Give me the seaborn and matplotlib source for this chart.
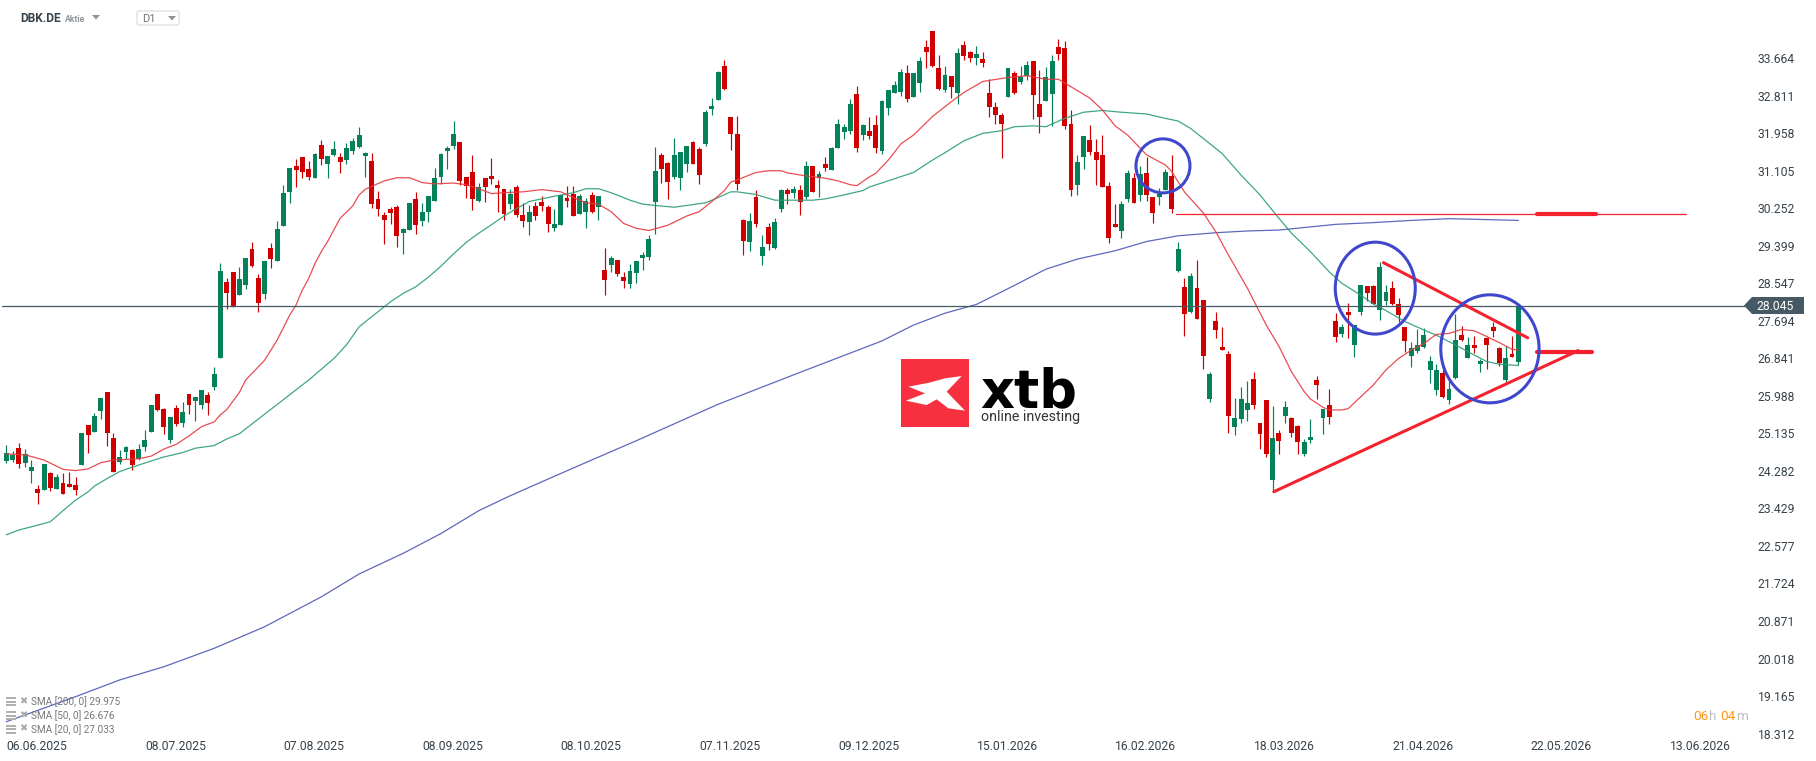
import matplotlib
matplotlib.use("Agg")
import matplotlib.pyplot as plt
from matplotlib.patches import Ellipse, Polygon, Rectangle, FancyBboxPatch
import numpy as np
import pandas as pd
import seaborn as sns

# daily candles, index = trading day
highs = [
    24.87, 24.74, 24.92, 24.78, 24.53, 23.96, 24.44, 24.26, 24.21, 24.24,
    24.26, 24.15, 25.15, 25.33, 25.60, 25.94, 26.08, 25.15, 24.76, 24.85,
    24.78, 24.90, 25.21, 25.78, 26.03, 25.71, 25.51, 25.78, 25.85, 26.03,
    25.97, 26.12, 26.08, 26.65,
    29.01, 28.67, 28.81, 28.92, 29.13, 29.49, 28.76, 29.06, 29.47, 29.97,
    30.79, 31.17, 31.38, 31.42, 31.33, 31.51, 31.81, 31.44, 31.79, 31.51,
    31.74, 31.85, 32.10, 31.54, 31.51, 30.65, 30.17, 30.28, 30.33, 29.81,
    30.38, 30.63, 30.38, 30.54, 31.17, 31.51, 31.67,
    32.24, 31.76, 30.97, 31.47, 30.83, 30.94, 31.40, 30.90, 30.69, 30.69,
    30.79, 30.38, 30.33, 30.40, 30.54, 30.33, 30.24, 30.56, 30.76, 30.76,
    30.58, 30.49, 30.63, 30.54, 29.35, 29.17, 29.08, 28.81, 28.99, 29.06,
    29.26, 29.65, 31.65, 31.51, 31.31, 31.85, 31.54, 31.67, 31.79, 31.65,
    32.49, 32.76, 33.38, 33.63, 32.33, 32.35, 30.01, 30.15, 30.67, 29.65,
    29.92, 30.03, 30.69, 30.72, 30.76, 30.79, 31.33, 31.22, 31.10, 31.42,
    31.65, 32.29, 32.17, 32.74, 33.04, 32.17, 32.33, 32.38, 32.72, 32.95,
    33.15, 33.42, 33.51, 33.33, 33.70, 34.08, 34.29, 33.74, 33.49, 33.26,
    33.90, 34.06, 33.83, 33.95, 33.81, 33.20, 32.67, 32.42, 33.45, 33.38,
    33.49, 33.60, 33.60, 33.40, 33.47, 33.74, 34.10, 34.06, 32.49, 31.47,
    31.90, 32.15, 31.83, 31.92, 30.85, 30.35, 30.42, 31.13, 31.06, 31.22,
    31.42, 30.51, 30.72, 31.15, 31.47, 29.49, 28.67, 28.78, 29.08, 28.17,
    26.53, 27.90, 27.56, 27.01, 25.94, 26.19, 26.33, 26.53, 25.37, 25.90,
    25.76,
    25.21, 25.87, 25.51, 25.33, 25.01, 25.46, 26.44, 25.69, 26.15, 27.87,
    27.62, 28.10, 27.60, 28.51, 28.49, 28.51, 29.03, 28.51, 28.60, 28.22,
    27.56, 27.22, 27.51, 27.53, 26.90, 26.71, 26.60, 26.33, 27.85, 27.58,
    27.33, 27.35, 26.83, 27.33, 27.67, 27.10, 27.12, 27.35, 28.08,
]
body_tops = [
    24.69, 24.65, 24.80, 24.67, 24.37, 23.87, 24.44, 24.24, 24.15, 24.01,
    23.99, 23.96, 25.15, 25.33, 25.53, 25.94, 26.08, 25.03, 24.60, 24.83,
    24.76, 24.78, 24.99, 25.78, 26.03, 25.69, 25.51, 25.71, 25.62, 26.03,
    25.97, 26.12, 26.01, 26.49,
    28.83, 28.58, 28.81, 28.65, 29.13, 29.33, 28.67, 29.06, 29.35, 29.78,
    30.60, 31.17, 31.22, 31.42, 31.15, 31.49, 31.69, 31.44, 31.60, 31.42,
    31.63, 31.79, 31.92, 31.51, 31.33, 30.47, 30.10, 30.24, 30.28, 29.78,
    30.38, 30.47, 30.17, 30.54, 30.94, 31.49, 31.63,
    31.94, 31.76, 30.97, 31.08, 30.74, 30.94, 30.99, 30.79, 30.69, 30.58,
    30.74, 30.10, 30.17, 30.31, 30.40, 30.28, 29.90, 30.56, 30.49, 30.58,
    30.54, 30.42, 30.56, 30.54, 28.85, 29.13, 29.08, 28.69, 28.83, 29.06,
    29.19, 29.56, 31.10, 31.47, 31.29, 31.47, 31.54, 31.67, 31.76, 31.60,
    32.45, 32.58, 33.36, 33.49, 32.33, 31.94, 29.99, 29.97, 30.51, 29.38,
    29.83, 29.94, 30.67, 30.67, 30.69, 30.67, 31.22, 31.22, 31.04, 31.26,
    31.63, 32.17, 32.10, 32.63, 32.85, 32.15, 32.01, 32.15, 32.70, 32.95,
    33.06, 33.35, 33.33, 33.33, 33.60, 33.92, 34.29, 33.45, 33.29, 33.26,
    33.79, 33.97, 33.81, 33.76, 33.65, 32.88, 32.56, 32.38, 33.45, 33.33,
    33.24, 33.51, 33.60, 32.63, 33.24, 33.60, 33.92, 33.90, 32.17, 31.31,
    31.90, 31.81, 31.54, 31.47, 30.76, 29.90, 30.35, 31.06, 30.94, 31.04,
    31.06, 30.51, 30.58, 31.08, 30.99, 29.33, 28.47, 28.72, 28.44, 28.17,
    26.49, 27.69, 27.10, 26.94, 25.49, 25.92, 25.83, 26.37, 25.37, 25.90,
    25.03,
    25.15, 25.74, 25.49, 25.31, 24.94, 25.05, 26.35, 25.69, 25.78, 27.69,
    27.56, 27.90, 27.60, 28.51, 28.49, 28.49, 28.92, 28.35, 28.44, 28.08,
    27.56, 27.08, 27.15, 27.37, 26.78, 26.58, 26.51, 26.15, 27.26, 27.37,
    27.15, 27.15, 26.78, 27.31, 27.56, 27.08, 26.85, 26.94, 28.03,
]
body_bottoms = [
    24.51, 24.53, 24.44, 24.46, 24.28, 23.78, 23.85, 23.90, 23.87, 23.76,
    23.92, 23.85, 24.42, 25.10, 25.17, 25.65, 25.15, 24.26, 24.49, 24.71,
    24.42, 24.55, 24.83, 25.17, 25.67, 25.28, 24.99, 25.35, 25.37, 25.78,
    25.87, 25.78, 25.83, 26.19,
    26.85, 28.33, 28.01, 28.28, 28.51, 28.94, 28.10, 28.31, 29.10, 29.06,
    29.85, 30.63, 31.13, 31.08, 30.97, 30.94, 31.38, 31.26, 31.47, 31.31,
    31.35, 31.56, 31.65, 31.44, 30.35, 30.24, 29.99, 30.15, 29.63, 29.69,
    29.76, 29.88, 29.97, 30.17, 30.42, 30.97, 31.56,
    31.67, 30.88, 30.76, 30.47, 30.42, 30.74, 30.92, 30.72, 30.13, 30.35,
    30.10, 29.97, 29.94, 30.08, 30.31, 29.90, 29.81, 29.88, 30.42, 30.08,
    30.13, 30.17, 30.17, 30.28, 28.63, 28.97, 28.76, 28.60, 28.53, 28.78,
    29.13, 29.15, 30.40, 31.15, 30.85, 30.97, 30.94, 31.26, 31.26, 31.01,
    31.72, 32.51, 32.72, 32.97, 31.94, 30.81, 29.51, 29.49, 29.90, 29.17,
    29.44, 29.35, 30.24, 30.58, 30.60, 30.40, 30.51, 30.63, 30.94, 31.17,
    31.13, 31.63, 31.99, 32.01, 31.63, 31.92, 31.90, 31.63, 31.56, 32.54,
    32.88, 32.90, 32.74, 32.79, 33.10, 33.81, 33.49, 32.97, 32.95, 33.01,
    32.88, 33.72, 33.67, 33.67, 33.56, 32.56, 32.38, 32.17, 32.79, 32.88,
    33.13, 33.26, 32.83, 32.33, 32.70, 32.85, 33.76, 32.13, 30.67, 30.79,
    31.42, 31.54, 31.35, 30.74, 29.58, 29.83, 29.74, 30.47, 30.38, 30.56,
    30.56, 30.15, 30.51, 30.67, 30.24, 28.83, 27.85, 27.90, 27.74, 26.90,
    25.92, 27.49, 27.03, 25.53, 25.28, 25.46, 25.67, 25.78, 25.12, 24.67,
    24.08,
    24.96, 25.53, 25.15, 24.94, 24.67, 24.99, 26.24, 25.49, 25.51, 27.33,
    27.40, 27.83, 27.15, 27.90, 28.33, 28.08, 27.94, 28.15, 28.08, 27.83,
    27.24, 26.90, 27.01, 27.10, 26.58, 26.12, 25.96, 25.90, 26.40, 27.26,
    26.85, 27.08, 26.71, 27.15, 27.47, 26.74, 26.35, 26.87, 26.76,
]
lows = [
    24.46, 24.49, 24.35, 24.37, 24.01, 23.53, 23.85, 23.83, 23.87, 23.76,
    23.92, 23.74, 24.42, 24.69, 25.17, 25.46, 24.85, 24.26, 24.44, 24.55,
    24.30, 24.53, 24.74, 25.17, 25.65, 25.12, 24.92, 25.31, 25.28, 25.58,
    25.42, 25.69, 25.56, 26.12,
    26.85, 27.97, 28.01, 28.28, 28.42, 28.92, 27.90, 28.19, 28.90, 29.06,
    29.85, 30.38, 30.74, 30.94, 30.90, 30.94, 31.24, 30.94, 31.44, 31.06,
    31.26, 31.49, 31.63, 30.97, 30.26, 30.08, 29.44, 29.90, 29.38, 29.22,
    29.76, 29.67, 29.85, 29.94, 30.42, 30.81, 31.15,
    31.60, 30.79, 30.49, 30.22, 30.40, 30.40, 30.81, 30.17, 29.99, 30.24,
    30.06, 29.83, 29.65, 29.99, 30.19, 29.72, 29.74, 29.88, 30.28, 30.08,
    30.13, 29.81, 30.15, 29.99, 28.28, 28.81, 28.72, 28.44, 28.44, 28.56,
    28.85, 29.08, 29.67, 30.83, 30.47, 30.92, 30.67, 31.08, 31.26, 30.81,
    31.67, 32.38, 32.72, 32.95, 31.58, 30.67, 29.19, 29.28, 29.83, 28.97,
    29.31, 29.33, 30.17, 30.35, 30.49, 30.10, 30.47, 30.63, 30.51, 31.10,
    31.13, 31.63, 31.83, 31.94, 31.54, 31.81, 31.83, 31.51, 31.49, 32.38,
    32.88, 32.81, 32.67, 32.79, 32.90, 33.45, 33.47, 32.95, 32.90, 32.76,
    32.63, 33.63, 33.58, 33.51, 33.47, 32.33, 32.17, 31.40, 32.79, 32.85,
    33.08, 33.17, 32.29, 31.97, 32.70, 32.13, 33.63, 32.06, 30.53, 30.56,
    31.15, 31.47, 30.79, 30.74, 29.47, 29.83, 29.58, 30.40, 30.38, 30.42,
    30.42, 29.92, 30.33, 30.67, 30.15, 28.81, 27.35, 27.87, 27.74, 26.60,
    25.85, 27.31, 27.03, 25.15, 25.10, 25.37, 25.42, 25.69, 24.78, 24.60,
    23.80,
    24.67, 25.37, 25.05, 24.67, 24.62, 24.92, 25.92, 25.12, 25.35, 27.22,
    27.33, 27.31, 26.87, 27.83, 28.15, 28.08, 27.71, 28.06, 28.06, 27.67,
    26.99, 26.65, 26.96, 27.08, 26.28, 26.01, 25.94, 25.80, 26.37, 27.24,
    26.85, 26.96, 26.53, 26.60, 27.33, 26.67, 26.31, 26.87, 26.69,
]
# G = close above open, R = close below open
directions = (
    "GGRGGRGRGR" "RRGRGGRRGG" "RGGGRRGRGR" "GGRG"
    "GRRGGRRGRG" "GGRRRGRGGR" "GGGGRRRRRG" "GRGGGGG"
    "GRRRGRRRRG" "RRGRRRGGRR" "GGRGRGRRGG" "GGGRRGGGRR"
    "GGGRRRRGRG" "RGGRGRGRGR" "GGGGRGRRGG"
    "GGRGGRRRGR" "GRRGRRRRGR" "GGRRGGRRRG" "GRRRRRGGRG"
    "RRGGRGRGRR" "GRRRGGGRRR" "G"
    "RGRRGGRGRR" "GRGGRRGGRR" "RGGGGGRGGR" "GRGRRRGRG"
)

sma20_days = [0, 3, 6, 9, 11, 13, 15, 17, 21, 23, 25, 27, 29, 31, 33, 34, 35, 37, 38, 41, 43, 45, 46, 47, 48, 49,
              50, 51, 53, 55, 56, 57, 60, 62, 64, 66, 68, 71, 73, 75, 77, 79, 82, 85, 88, 90, 92, 94, 96, 98,
              100, 102, 105, 108, 110, 112, 114, 115, 116, 119, 121, 123, 124, 127, 130, 132, 134, 135, 137, 138,
              140, 142, 144, 147, 150, 152, 155, 159, 162, 165, 167, 169, 172, 174, 176, 178, 181, 184, 185, 187,
              190, 192, 194, 197, 200, 202, 204, 206, 207, 209, 210, 212, 213, 215, 217, 219, 221, 223, 225, 227,
              229, 231, 233, 235, 237, 239, 240]
sma20_values = [24.67, 24.65, 24.53, 24.32, 24.29, 24.33, 24.47, 24.53, 24.56, 24.62, 24.78, 24.89, 25.08, 25.29,
                25.40, 25.56, 25.68, 26.07, 26.35, 26.80, 27.26, 27.83, 28.06, 28.40, 28.66, 29.00,
                29.27, 29.50, 30.03, 30.31, 30.56, 30.69, 30.88, 30.95, 30.95, 30.84, 30.81, 30.83, 30.79, 30.70,
                30.59, 30.61, 30.63, 30.68, 30.63, 30.50, 30.38, 30.35, 30.18, 29.91,
                29.80, 29.75, 29.87, 30.08, 30.18, 30.41, 30.66, 30.85, 30.90, 31.07, 31.11, 31.11, 31.06, 30.99,
                30.94, 30.88, 30.79, 30.77, 30.97, 31.05,
                31.35, 31.72, 31.92, 32.34, 32.68, 32.89, 33.14, 33.23, 33.27, 33.19, 33.19, 33.02, 32.76, 32.49,
                32.13, 31.92, 31.47, 31.24, 31.09, 30.63,
                30.15, 29.72, 29.19, 28.44, 27.60, 27.12, 26.54, 26.09, 25.92, 25.73, 25.67, 25.67, 25.70, 25.97,
                26.24, 26.58, 26.84, 27.03, 27.18, 27.39,
                27.41, 27.50, 27.47, 27.34, 27.20, 27.05, 27.03]

sma50_days = [0, 2, 5, 7, 9, 11, 13, 14, 16, 18, 20, 23, 25, 28, 30, 33, 35, 37, 48, 52, 54, 56, 58, 61, 63, 65, 67,
              69, 71, 73, 75, 77, 79, 81, 83, 85, 87, 90, 92, 94, 96, 99, 101, 103, 106, 108, 111, 113, 115, 116,
              119, 122, 125, 128, 130, 133, 136, 137, 140, 144, 147, 149, 152, 155, 158, 160, 163, 165, 168, 171,
              174, 177, 181, 184, 186, 188, 191, 193, 196, 199, 202, 204, 207, 210, 212, 215, 217, 219, 222, 225,
              227, 230, 233, 235, 237, 240]
sma50_values = [22.83, 22.94, 23.05, 23.13, 23.38, 23.62, 23.81, 23.94, 24.11, 24.27, 24.37, 24.51, 24.60, 24.70,
                24.80, 24.86, 25.01, 25.13, 26.35, 26.84, 27.15, 27.56, 27.79, 28.13, 28.32, 28.47, 28.69,
                28.94, 29.22, 29.48, 29.69, 29.88, 30.08, 30.25, 30.41, 30.47, 30.53, 30.61, 30.70, 30.70, 30.61,
                30.44, 30.35, 30.32, 30.28, 30.32, 30.38, 30.50, 30.63, 30.63,
                30.57, 30.44, 30.44, 30.44, 30.47, 30.56, 30.66, 30.74, 30.88, 31.07, 31.35, 31.52, 31.79, 31.96,
                32.02, 32.11, 32.13, 32.11, 32.30, 32.44,
                32.48, 32.44, 32.40, 32.30, 32.24, 32.07, 31.73, 31.50, 31.01, 30.56, 30.03, 29.69, 29.27, 28.81,
                28.55, 28.28, 28.08, 27.93, 27.68, 27.49,
                27.37, 27.15, 26.92, 26.77, 26.71, 26.68]

sma200_days = [0, 11, 18, 25, 33, 41, 50, 56, 63, 69, 75, 80, 90, 100, 113, 125, 139, 144, 149, 154, 160, 165, 170,
               176, 181, 186, 192, 197, 202, 211, 217, 223, 229, 240]
sma200_values = [18.58, 19.15, 19.53, 19.83, 20.25, 20.74, 21.42, 21.94, 22.41, 22.86, 23.38, 23.72, 24.35, 24.97,
                 25.80, 26.47, 27.24, 27.60, 27.87, 28.07, 28.50, 28.87, 29.10, 29.29,
                 29.50, 29.63, 29.70, 29.74, 29.76, 29.89, 29.93, 29.98, 30.02, 29.98]

price_ticks = [18.312, 19.165, 20.018, 20.871, 21.724, 22.577, 23.429, 24.282, 25.135, 25.988,
               26.841, 27.694, 28.547, 29.399, 30.252, 31.105, 31.958, 32.811, 33.664]
date_ticks = [0, 22, 44, 66, 88, 110, 132, 154, 176, 198, 220, 242, 264]
date_labels = ["06.06.2025", "08.07.2025", "07.08.2025", "08.09.2025", "08.10.2025", "07.11.2025", "09.12.2025",
               "15.01.2026", "16.02.2026", "18.03.2026", "21.04.2026", "22.05.2026", "13.06.2026"]
last_price = 28.045
legend_labels = ["SMA [200, 0] 29.975", "SMA [50, 0] 26.676", "SMA [20, 0] 27.033"]

GREEN = "#04805a"
RED = "#d00000"
DRAW_RED = "#f4212e"
CIRCLE = "#3f48cc"
SLATE = "#455a64"
TEXT = "#37424a"

sns.set_theme(style="white")
plt.rcParams["font.family"] = ["Roboto", "DejaVu Sans"]

candles = pd.DataFrame({"high": highs, "top": body_tops, "bottom": body_bottoms, "low": lows,
                        "dir": list(directions)})
candles["day"] = candles.index
candles["color"] = candles["dir"].map({"G": GREEN, "R": RED})

fig = plt.figure(figsize=(18.16, 7.61), dpi=100, facecolor="white")
ax = fig.add_axes([0, 24 / 761, 1752 / 1816, 737 / 761])
ax.set_facecolor("none")

ax.vlines(candles["day"], candles["low"], candles["high"], colors=candles["color"], linewidth=0.85, zorder=2)
ax.bar(candles["day"], candles["top"] - candles["bottom"], bottom=candles["bottom"], width=0.78,
       color=candles["color"], linewidth=0, zorder=2)

for days, values, color in [(sma200_days, sma200_values, "#4c58b4"),
                            (sma50_days, sma50_values, "#2a9d78"),
                            (sma20_days, sma20_values, "#e63a3f")]:
    sns.lineplot(x=days, y=values, color=color, linewidth=0.9, alpha=0.9, errorbar=None, legend=False,
                 ax=ax, zorder=3)

ax.axhline(last_price, xmin=2 / 1752, color=SLATE, linewidth=0.9, zorder=3)

# hand drawn levels and trend lines
ax.plot([185.7, 266.6], [30.12, 30.12], color=DRAW_RED, linewidth=0.9, zorder=4)
ax.plot([243, 252.3], [30.12, 30.12], color=DRAW_RED, linewidth=3.0, zorder=4, solid_capstyle="round")
ax.plot([201.2, 249.5], [23.81, 27.02], color=DRAW_RED, linewidth=2.2, zorder=4)
ax.plot([218.6, 241.5], [29.02, 27.31], color=DRAW_RED, linewidth=2.2, zorder=4)
ax.plot([243, 251.7], [26.98, 26.98], color=DRAW_RED, linewidth=3.0, zorder=4, solid_capstyle="round")
for day, price, w, h in [(183.6, 31.22, 8.57, 1.228), (217.3, 28.44, 12.7, 2.09), (235.5, 27.06, 15.6, 2.456)]:
    ax.add_patch(Ellipse((day, price), w, h, fill=False, edgecolor=CIRCLE, linewidth=2.2, zorder=5))

ax.set_xlim(-1, 277.1)
ax.set_ylim(18.233, 34.992)
ax.set_xticks(date_ticks)
ax.set_xticklabels(date_labels, ha="left", fontsize=8.7, color=TEXT)
ax.yaxis.tick_right()
ax.set_yticks(price_ticks)
ax.set_yticklabels([f"{p:.3f}" for p in price_ticks], fontsize=8.7, color=TEXT)
ax.tick_params(axis="both", length=0)
ax.tick_params(axis="x", pad=2)
ax.tick_params(axis="y", pad=4)
sns.despine(ax=ax, left=True, bottom=True, right=True, top=True)

# screen furniture in pixel coordinates: logo, header, legend, price flag, timer
deco = fig.add_axes([0, 0, 1, 1])
deco.set_xlim(0, 1816)
deco.set_ylim(761, 0)
deco.axis("off")
deco.set_facecolor("none")

deco.add_patch(Rectangle((901, 359), 68, 68, facecolor="#f7303f", edgecolor="none"))
x_mark = np.array([(85, 140), (148, 128), (195, 115), (245, 108), (200, 155), (255, 212), (205, 205), (170, 178),
                   (140, 195), (78, 182), (135, 160)], dtype=float)
deco.add_patch(Polygon(np.column_stack([880 + x_mark[:, 0] / 3, 340 + x_mark[:, 1] / 3]), facecolor="white",
                       edgecolor="none"))
deco.text(980, 407, "xtb", fontsize=38, fontweight="bold", family="DejaVu Sans", color="black", va="baseline",
          ha="left")
deco.text(981, 417, "online investing", fontsize=10.3, color="#333333", va="center", ha="left")

deco.text(20, 18.5, "DBK.DE", fontsize=8.6, fontweight="bold", color=TEXT, va="center")
deco.text(65, 19, "Aktie", fontsize=6.2, fontweight="bold", color="#8f9699", va="center")
deco.add_patch(Polygon([(92, 15), (100, 15), (96, 19.5)], facecolor="#8f9699", edgecolor="none"))
deco.add_patch(FancyBboxPatch((137, 11), 42, 14, boxstyle="round,pad=0,rounding_size=2", facecolor="white",
                              edgecolor="#e0e0e0", linewidth=1))
deco.text(142, 19, "D1", fontsize=8, color="#757575", va="center")
deco.add_patch(Polygon([(168, 16), (176, 16), (172, 20.5)], facecolor="#8f9699", edgecolor="none"))

for label, y in zip(legend_labels, [702, 716, 729.5]):
    deco.text(31, y, label, fontsize=7.2, color="#777777", va="center", zorder=1)
    for dy in (-5, -1.5, 2):
        deco.add_patch(Rectangle((6, y + dy), 10, 2.4, facecolor="#b0b0b0", edgecolor="none", zorder=1))
    deco.text(23, y - 1, "\u2716", fontsize=7, color="#aaaaaa", va="center", ha="center", zorder=1)

deco.add_patch(Polygon([(1744, 305.5), (1752, 297), (1804, 297), (1804, 314), (1752, 314)], facecolor=SLATE,
                       edgecolor="none", zorder=6))
deco.text(1756, 306.5, f"{last_price:.3f}", fontsize=8.7, color="white", va="center", ha="left", zorder=7)

for x, label, color in [(1693, "06", "#ff9612"), (1708, "h", "#bdbdbd"), (1720, "04", "#ff9612"),
                        (1736, "m", "#bdbdbd")]:
    deco.text(x, 716, label, fontsize=9.7, color=color, va="center", ha="left")

fig.savefig("out.png", dpi=100)
